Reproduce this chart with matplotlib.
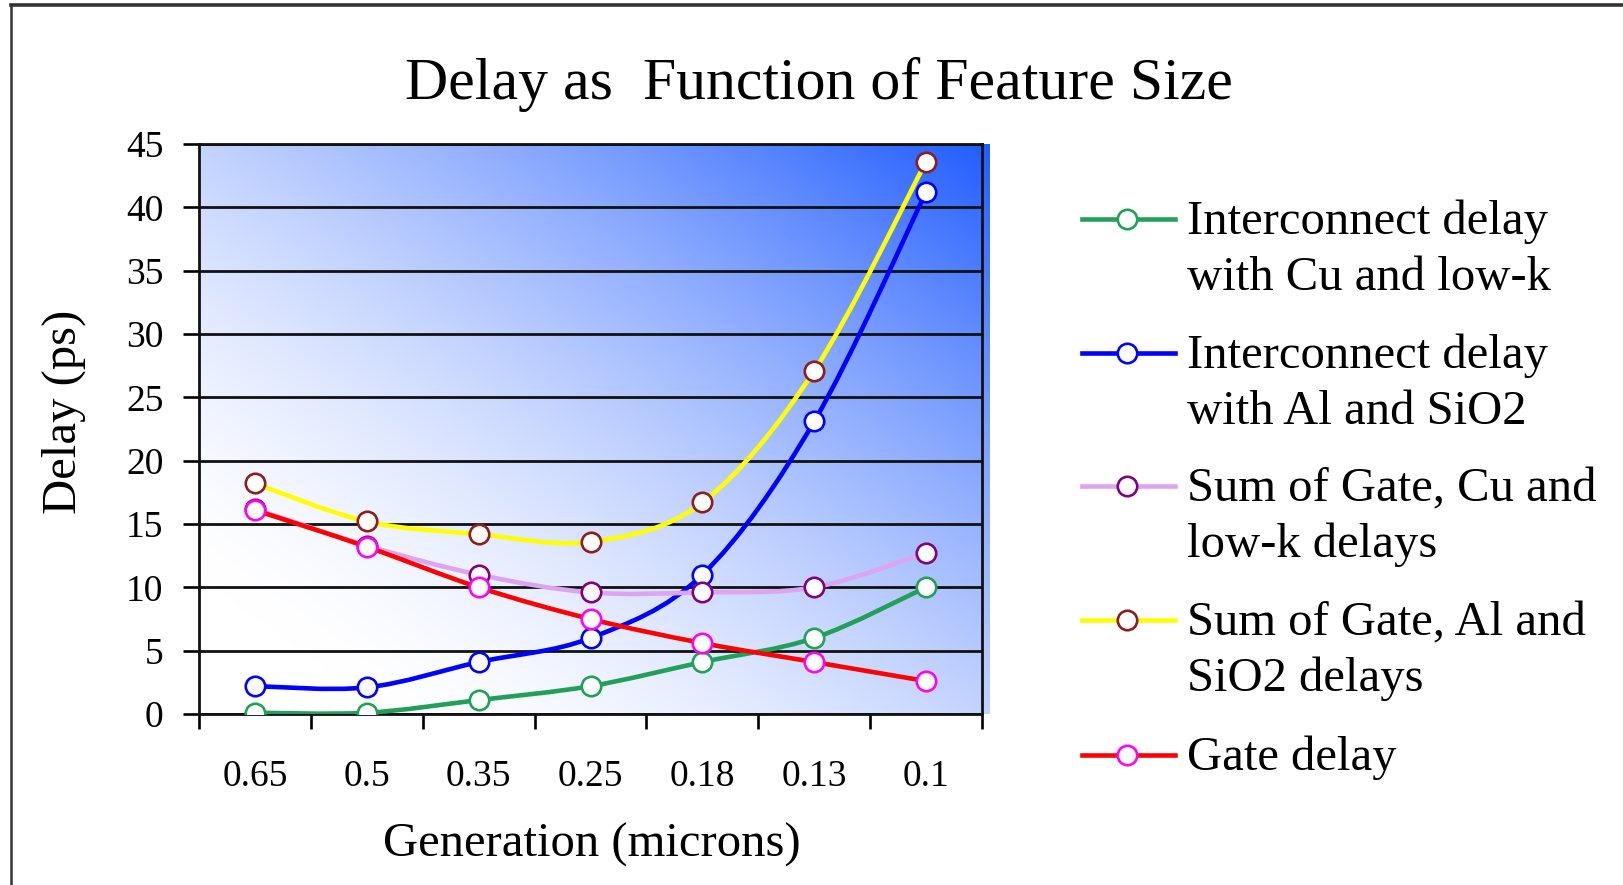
import numpy as np
import matplotlib
matplotlib.use("Agg")
import matplotlib.pyplot as plt
from matplotlib.path import Path
from matplotlib.patches import PathPatch
from matplotlib.lines import Line2D

# ---- data ----------------------------------------------------------------
generations = ["0.65", "0.5", "0.35", "0.25", "0.18", "0.13", "0.1"]

cu_lowk_delay = [0.1, 0.1, 1.1, 2.2, 4.1, 6.0, 10.0]
al_sio2_delay = [2.2, 2.1, 4.1, 6.0, 11.0, 23.1, 41.2]
sum_gate_cu = [16.2, 13.3, 11.0, 9.6, 9.6, 10.0, 12.7]
sum_gate_al = [18.2, 15.2, 14.2, 13.6, 16.7, 27.1, 43.6]
gate_delay = [16.1, 13.2, 10.0, 7.5, 5.6, 4.1, 2.6]

series_labels = [
    "Interconnect delay\nwith Cu and low-k",
    "Interconnect delay\nwith Al and SiO2",
    "Sum of Gate, Cu and\nlow-k delays",
    "Sum of Gate, Al and\nSiO2 delays",
    "Gate delay",
]
y_ticks = [0, 5, 10, 15, 20, 25, 30, 35, 40, 45]

title = "Delay as  Function of Feature Size"
x_label = "Generation (microns)"
y_label = "Delay (ps)"

# ---- styling -------------------------------------------------------------
line_colors = ["#22A05A", "#0000FF", "#DDA4F2", "#FFFF00", "#FF0000"]
edge_colors = ["#22A05A", "#0000FF", "#800080", "#8B1E1E", "#FF00FF"]
series = [cu_lowk_delay, al_sio2_delay, sum_gate_cu, sum_gate_al, gate_delay]

plt.rcParams["font.family"] = ["Liberation Serif", "DejaVu Serif"]

W, H = 1623, 885
fig = plt.figure(figsize=(W / 100, H / 100), dpi=100)
fig.patch.set_facecolor("white")

ax_l, ax_r, ax_t, ax_b = 199, 982, 144, 714
ax = fig.add_axes([ax_l / W, 1 - ax_b / H, (ax_r - ax_l) / W, (ax_b - ax_t) / H])
ax.set_facecolor("none")

# diagonal white-to-blue gradient behind the plot
gu = np.linspace(0, 1, 500)
gv = np.linspace(0, 1, 400)
GU, GV = np.meshgrid(gu, gv)
s = (GU + GV) / 2
f = np.clip((s - 0.12) / 0.88, 0, 1) ** 1.55
white = np.array([1.0, 1.0, 1.0])
blue = np.array([32, 92, 255]) / 255
img = white * (1 - f[..., None]) + blue * f[..., None]
ax.imshow(img, extent=[0, 1.009, 0, 1], transform=ax.transAxes, origin="lower",
          aspect="auto", zorder=0, clip_on=False, interpolation="bilinear")


def smooth_path(xs, ys):
    """Cubic Bezier path through the points (Catmull-Rom style smoothing)."""
    pts = np.column_stack([xs, ys]).astype(float)
    n = len(pts)
    verts = [pts[0]]
    codes = [Path.MOVETO]
    for i in range(n - 1):
        p0 = pts[max(i - 1, 0)]
        p1 = pts[i]
        p2 = pts[i + 1]
        p3 = pts[min(i + 2, n - 1)]
        c1 = p1 + (p2 - p0) / 6
        c2 = p2 - (p3 - p1) / 6
        verts += [c1, c2, p2]
        codes += [Path.CURVE4] * 3
    return Path(verts, codes)


x = np.arange(len(generations))
for k, (vals, lc, ec) in enumerate(zip(series, line_colors, edge_colors)):
    patch = PathPatch(smooth_path(x, vals), facecolor="none", edgecolor=lc,
                      lw=3.3, capstyle="round", joinstyle="round",
                      zorder=3 + 2 * k)
    ax.add_patch(patch)
    ax.plot(x, vals, linestyle="none", marker="o", ms=14, mfc="white",
            mec=ec, mew=1.9, zorder=4 + 2 * k)

ax.set_xlim(-0.5, len(generations) - 0.5)
ax.set_ylim(0, 45)

# horizontal gridlines
ax.set_yticks(y_ticks)
ax.yaxis.grid(True, color="#111111", lw=2.0, zorder=1)
ax.set_axisbelow(True)
ax.tick_params(axis="y", direction="out", length=11.5, width=1.9, pad=14,
               labelsize=27, colors="black")

ax.set_xticks(x)
ax.set_xticklabels(generations)
ax.set_xticks(np.arange(len(generations) + 1) - 0.5, minor=True)
ax.tick_params(axis="x", which="major", length=0, pad=33, labelsize=27)
ax.tick_params(axis="x", which="minor", direction="out", length=11, width=1.9)

for side in ["left", "bottom", "right", "top"]:
    ax.spines[side].set_color("#111111")
    ax.spines[side].set_linewidth(2.0)
    ax.spines[side].set_zorder(2)

# titles and axis labels
fig.text(819 / W, 1 - 99 / H, title, ha="center", va="baseline", fontsize=43)
fig.text(592 / W, 1 - 857 / H, x_label, ha="center", va="baseline", fontsize=35)
fig.text(64 / W, 1 - 412 / H, y_label, ha="center", va="center", rotation=90,
         fontsize=35)

# legend drawn beside the plot
row_centers = [219, 353, 486, 620, 755]
line_gap = 56
for lbl, lc, ec, yc in zip(series_labels, line_colors, edge_colors, row_centers):
    yf = 1 - yc / H
    fig.add_artist(Line2D([1082 / W, 1175 / W], [yf, yf], color=lc, lw=3.3,
                          transform=fig.transFigure))
    fig.add_artist(Line2D([1127 / W], [yf], linestyle="none", marker="o",
                          ms=14, mfc="white", mec=ec, mew=1.9,
                          transform=fig.transFigure))
    for j, part in enumerate(lbl.split("\n")):
        fig.text(1187 / W, 1 - (yc + 15 + j * line_gap) / H, part,
                 ha="left", va="baseline", fontsize=35)

# outer frame (top and left edges)
fig.add_artist(Line2D([11 / W, 1.0], [1 - 4.5 / H, 1 - 4.5 / H], color="#333333",
                      lw=2.6, transform=fig.transFigure))
fig.add_artist(Line2D([11 / W, 11 / W], [0, 1 - 4.5 / H], color="#333333",
                      lw=1.8, transform=fig.transFigure))

fig.savefig("out.png", dpi=100, facecolor="white")
